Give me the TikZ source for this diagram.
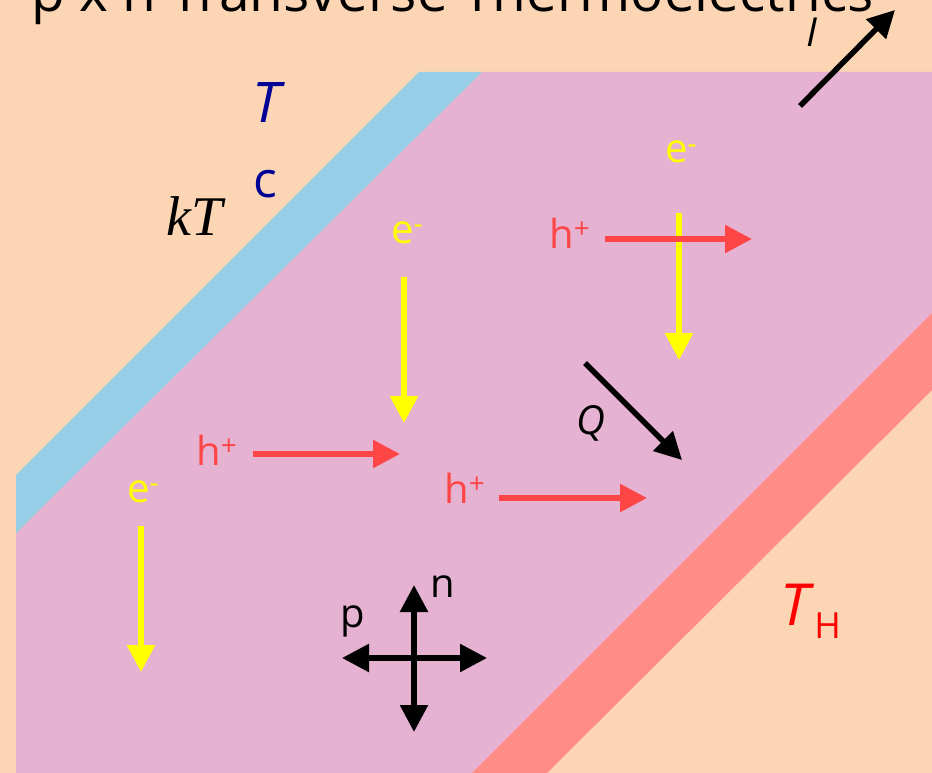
\documentclass[tikz,border=0pt]{standalone}
\usepackage{fontspec}
\setmainfont{Open Sans}
\newfontfamily\serifit{Liberation Serif}
\usepackage{tikz}
\usetikzlibrary{arrows.meta}
\definecolor{peach}{RGB}{252,213,180}
\definecolor{slab}{RGB}{229,178,210}
\definecolor{coldside}{RGB}{149,206,230}
\definecolor{hotside}{RGB}{255,140,135}
\definecolor{holered}{RGB}{255,70,70}
\definecolor{elecyellow}{RGB}{255,255,0}
\definecolor{coldblue}{RGB}{0,0,150}
\tikzstyle{flow}=[line width=5.5pt,-{Triangle[length=27pt,width=27pt]}]
\tikzstyle{hflow}=[flow,color=holered]
\tikzstyle{eflow}=[flow,color=elecyellow]
\tikzstyle{bflow}=[flow,color=black]
\tikzstyle{bothflow}=[line width=5.5pt,{Triangle[length=27pt,width=27pt]}-{Triangle[length=27pt,width=27pt]}]
\tikzstyle{labelsty}=[inner sep=0pt,anchor=base west,font=\fontsize{40}{48}\selectfont]
\tikzstyle{hlabel}=[labelsty,text=holered]
\tikzstyle{elabel}=[labelsty,text=elecyellow]

\begin{document}
\begin{tikzpicture}[x=1pt,y=-1pt]
					\clip (0,0) rectangle (932,773);
					\fill[peach] (0,0) rectangle (932,773);

					% slab with cold and hot sides
					\fill[slab] (482,72) -- (932,72) -- (932,313) -- (472,773) -- (16,773) -- (16,533) -- cycle;
					\fill[coldside] (16,475) -- (419,72) -- (482,72) -- (16,533) -- cycle;
					\fill[hotside] (932,313) -- (932,390) -- (547,773) -- (472,773) -- cycle;

					\node[inner sep=0pt,anchor=base west,font=\fontsize{55}{66}\selectfont] (title) at (31,12) {p x n Transverse Thermoelectrics};

					\node[inner sep=0pt,anchor=base west,text=coldblue,font=\fontsize{56}{66}\selectfont\itshape] (tc) at (252,123) {T};
					\node[inner sep=0pt,anchor=base west,text=coldblue,font=\fontsize{50}{60}\selectfont] (tcsub) at (253,197) {c};
					\node[inner sep=0pt,anchor=base west,font=\fontsize{56}{66}\serifit\itshape] (kt) at (166,235) {kT};
					\node[inner sep=0pt,anchor=base west,text=red,font=\fontsize{58}{68}\selectfont] (th) at (780,625) {\textit{T}\raisebox{-13pt}{\fontsize{36}{40}\selectfont H}};

					\node[labelsty,font=\fontsize{40}{48}\selectfont\itshape] (ilab) at (806,47) {I};
					\node[labelsty,font=\fontsize{40}{48}\selectfont\itshape] (qlab) at (576,434) {Q};

					\node[hlabel] (h1) at (549,248) {h\textsuperscript{+}};
					\node[hlabel] (h2) at (196,465) {h\textsuperscript{+}};
					\node[hlabel] (h3) at (444,503) {h\textsuperscript{+}};
					\node[elabel] (e1) at (665,163) {e\textsuperscript{-}};
					\node[elabel] (e2) at (391,243) {e\textsuperscript{-}};
					\node[elabel] (e3) at (127,502) {e\textsuperscript{-}};

					\node[labelsty] (nlab) at (430,597) {n};
					\node[labelsty] (plab) at (340,627) {p};

					% arrow ends
					\coordinate (i0) at (800,106);
					\coordinate (i1) at (895,10);
					\coordinate (q0) at (585,363);
					\coordinate (q1) at (682,460);
					\coordinate (h1a) at (605,239);
					\coordinate (h1b) at (752,239);
					\coordinate (h2a) at (253,454);
					\coordinate (h2b) at (400,454);
					\coordinate (h3a) at (499,498);
					\coordinate (h3b) at (647,498);
					\coordinate (e1a) at (679,213);
					\coordinate (e1b) at (679,360);
					\coordinate (e2a) at (404,277);
					\coordinate (e2b) at (404,423);
					\coordinate (e3a) at (141,526);
					\coordinate (e3b) at (141,672);
					\coordinate (crossn) at (414,585);
					\coordinate (crosss) at (414,732);
					\coordinate (crossw) at (342,658);
					\coordinate (crosse) at (487,658);

					\draw[eflow] (e1a) -- (e1b);
					\draw[eflow] (e2a) -- (e2b);
					\draw[eflow] (e3a) -- (e3b);
					\draw[hflow] (h1a) -- (h1b);
					\draw[hflow] (h2a) -- (h2b);
					\draw[hflow] (h3a) -- (h3b);

					\draw[bflow] (i0) -- (i1);
					\draw[bflow] (q0) -- (q1);
					\draw[bothflow] (crosss) -- (crossn);
					\draw[bothflow] (crossw) -- (crosse);

				\end{tikzpicture}
\end{document}
